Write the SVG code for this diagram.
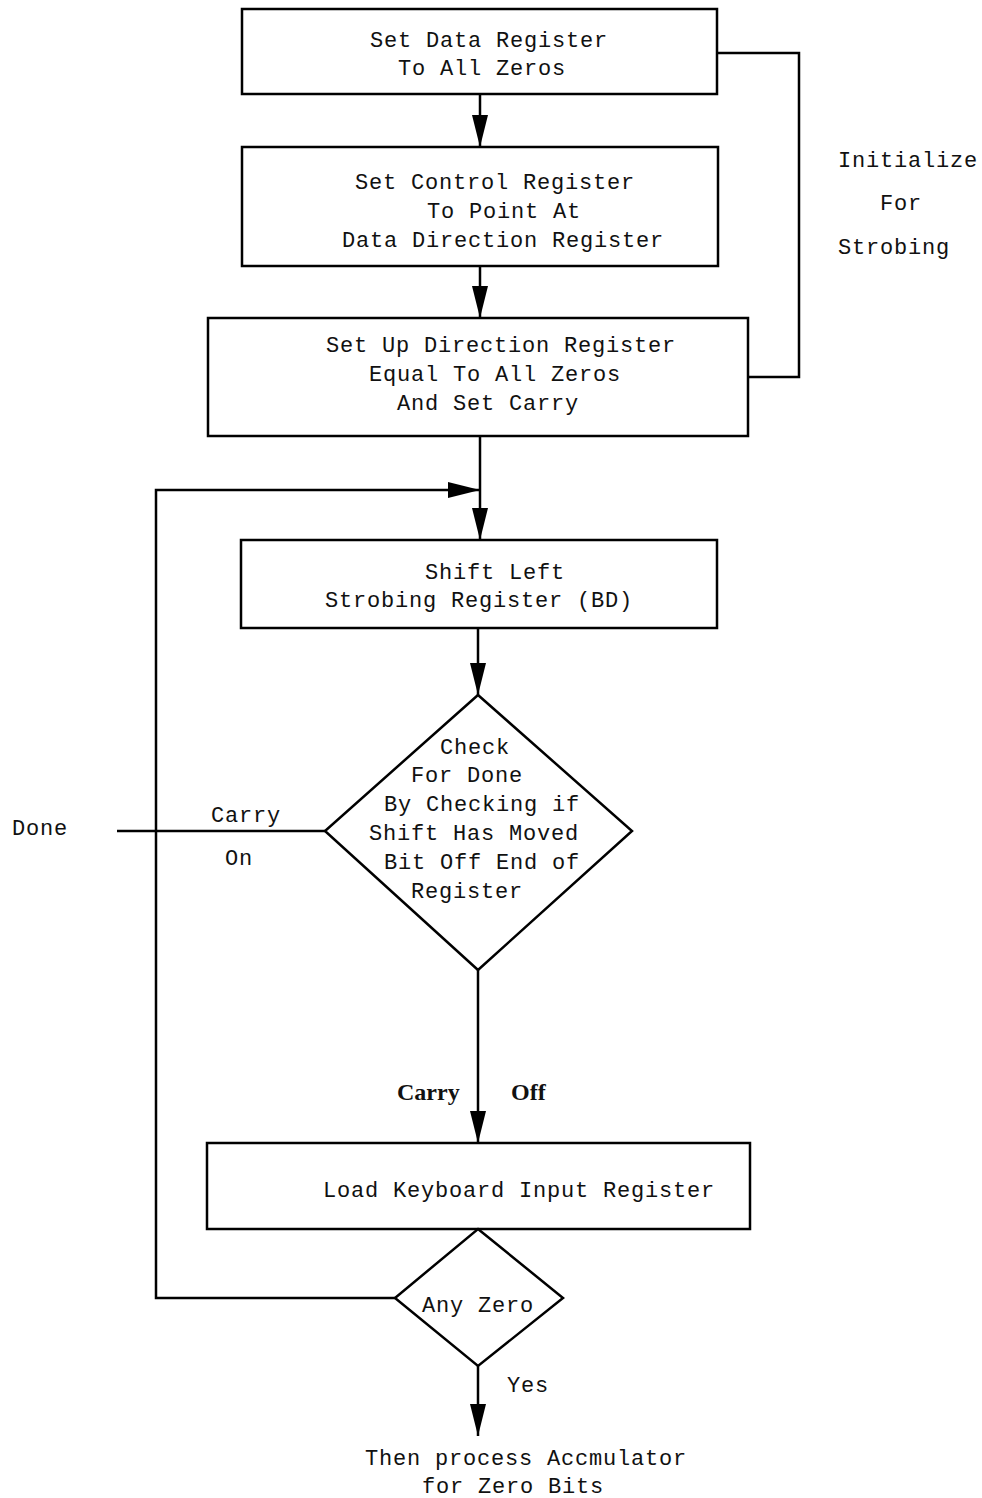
<svg xmlns="http://www.w3.org/2000/svg" width="982" height="1498" viewBox="0 0 982 1498">
<style>
.n{fill:#fff;stroke:#000;stroke-width:2.5}
.c{fill:none;stroke:#000;stroke-width:2.5}
.t{font-family:"Liberation Mono","DejaVu Sans Mono",monospace;font-size:22px;letter-spacing:0.8px;fill:#111}
.b{font-family:"Liberation Serif","DejaVu Serif",serif;font-size:24px;font-weight:bold;fill:#111}
</style>
<defs>
<marker id="ah" markerUnits="userSpaceOnUse" markerWidth="34" markerHeight="18" refX="32" refY="8" orient="auto" viewBox="0 0 34 18">
<path d="M0,0 L32,8 L0,16 Z" fill="#000"/>
</marker>
</defs>
<g id="connectors">
<path class="c" d="M480,94 V147" marker-end="url(#ah)"/>
<path class="c" d="M480,266 V318" marker-end="url(#ah)"/>
<path class="c" d="M480,436 V540" marker-end="url(#ah)"/>
<path class="c" d="M395,1298 H156 V490 H480" marker-end="url(#ah)"/>
<path class="c" d="M717,53 H799 V377 H748"/>
<path class="c" d="M478,628 V695" marker-end="url(#ah)"/>
<path class="c" d="M325,831 H117"/>
<path class="c" d="M478,970 V1143" marker-end="url(#ah)"/>
<path class="c" d="M478,1366 V1436" marker-end="url(#ah)"/>
</g>
<g id="n1">
<rect class="n" x="242" y="9" width="475" height="85"/>
<text class="t" x="370" y="47">Set Data Register</text>
<text class="t" x="398" y="75">To All Zeros</text>
</g>
<g id="n2">
<rect class="n" x="242" y="147" width="476" height="119"/>
<text class="t" x="355" y="189">Set Control Register</text>
<text class="t" x="427" y="218">To Point At</text>
<text class="t" x="342" y="247">Data Direction Register</text>
</g>
<g id="n3">
<rect class="n" x="208" y="318" width="540" height="118"/>
<text class="t" x="326" y="352">Set Up Direction Register</text>
<text class="t" x="369" y="381">Equal To All Zeros</text>
<text class="t" x="397" y="410">And Set Carry</text>
</g>
<g id="init-label">
<text class="t" x="838" y="167">Initialize</text>
<text class="t" x="880" y="210">For</text>
<text class="t" x="838" y="254">Strobing</text>
</g>
<g id="n4">
<rect class="n" x="241" y="540" width="476" height="88"/>
<text class="t" x="425" y="579">Shift Left</text>
<text class="t" x="325" y="607">Strobing Register (BD)</text>
</g>
<g id="d1">
<polygon class="n" points="478,695 632,831 478,970 325,831"/>
<text class="t" x="440" y="754">Check</text>
<text class="t" x="411" y="782">For Done</text>
<text class="t" x="384" y="811">By Checking if</text>
<text class="t" x="369" y="840">Shift Has Moved</text>
<text class="t" x="384" y="869">Bit Off End of</text>
<text class="t" x="411" y="898">Register</text>
</g>
<g id="done-labels">
<text class="t" x="12" y="835">Done</text>
<text class="t" x="211" y="822">Carry</text>
<text class="t" x="225" y="865">On</text>
</g>
<g id="off-labels">
<text class="b" x="397" y="1100">Carry</text>
<text class="b" x="511" y="1100">Off</text>
</g>
<g id="n5">
<rect class="n" x="207" y="1143" width="543" height="86"/>
<text class="t" x="323" y="1197">Load Keyboard Input Register</text>
</g>
<g id="d2">
<polygon class="n" points="478,1229 563,1298 478,1366 395,1298"/>
<text class="t" x="422" y="1312">Any Zero</text>
</g>
<g id="end">
<text class="t" x="507" y="1392">Yes</text>
<text class="t" x="365" y="1465">Then process Accmulator</text>
<text class="t" x="422" y="1493">for Zero Bits</text>
</g>
</svg>
